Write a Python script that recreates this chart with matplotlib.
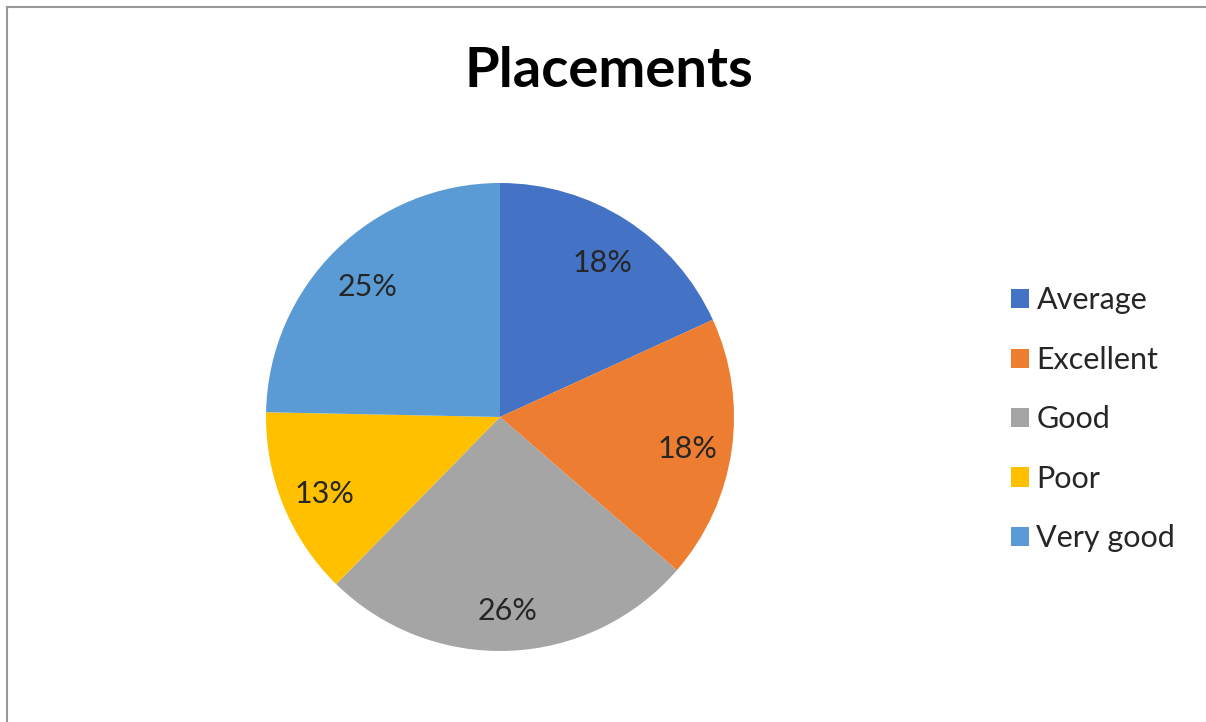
import matplotlib
matplotlib.use("Agg")
import matplotlib.pyplot as plt
from matplotlib.lines import Line2D
from matplotlib.patches import Patch
import matplotlib.transforms as mtransforms

categories = ["Average", "Excellent", "Good", "Poor", "Very good"]
values = [14, 14, 20, 10, 19]
colors = ["#4472C4", "#ED7D31", "#A5A5A5", "#FFC000", "#5B9BD5"]
title = "Placements"

W, H = 1206, 722
fig = plt.figure(figsize=(W / 100, H / 100), dpi=100)
plt.rcParams['font.family'] = ['Lato', 'DejaVu Sans']

# border lines (top & left)
fig.add_artist(Line2D([7 / W, 1], [1 - 7 / H, 1 - 7 / H], color="#999999", lw=1.5, transform=fig.transFigure))
fig.add_artist(Line2D([7 / W, 7 / W], [0, 1 - 7 / H], color="#999999", lw=1.5, transform=fig.transFigure))

cx, cy, r = 500, 417, 234
ax = fig.add_axes([(cx - r) / W, 1 - (cy + r) / H, 2 * r / W, 2 * r / H])
wedges, texts, autotexts = ax.pie(values, colors=colors, startangle=90, counterclock=False,
                                  autopct=lambda p: f"{p:.0f}%", pctdistance=0.81, radius=1,
                                  textprops=dict(fontsize=22, color="#262626"))
shift = mtransforms.ScaledTranslation(0, -5 / 100, fig.dpi_scale_trans)
for t in autotexts:
    t.set_transform(t.get_transform() + shift)
ax.set_xlim(-1, 1)
ax.set_ylim(-1, 1)
ax.set_aspect('equal')
ax.axis('off')

fig.text(609 / W, 1 - 71 / H, title, ha="center", va="center", fontsize=40.5, fontweight="bold", color="black")

handles = [Patch(facecolor=c, edgecolor='none') for c in colors]
leg = fig.legend(handles, categories, loc="upper left", bbox_to_anchor=(983 / W, 1 - 259 / H),
                 frameon=False, fontsize=22, handlelength=0.6, handleheight=0.6,
                 handletextpad=0.25, labelspacing=1.03, labelcolor="#262626")

fig.savefig("out.png", dpi=100, facecolor="white")
